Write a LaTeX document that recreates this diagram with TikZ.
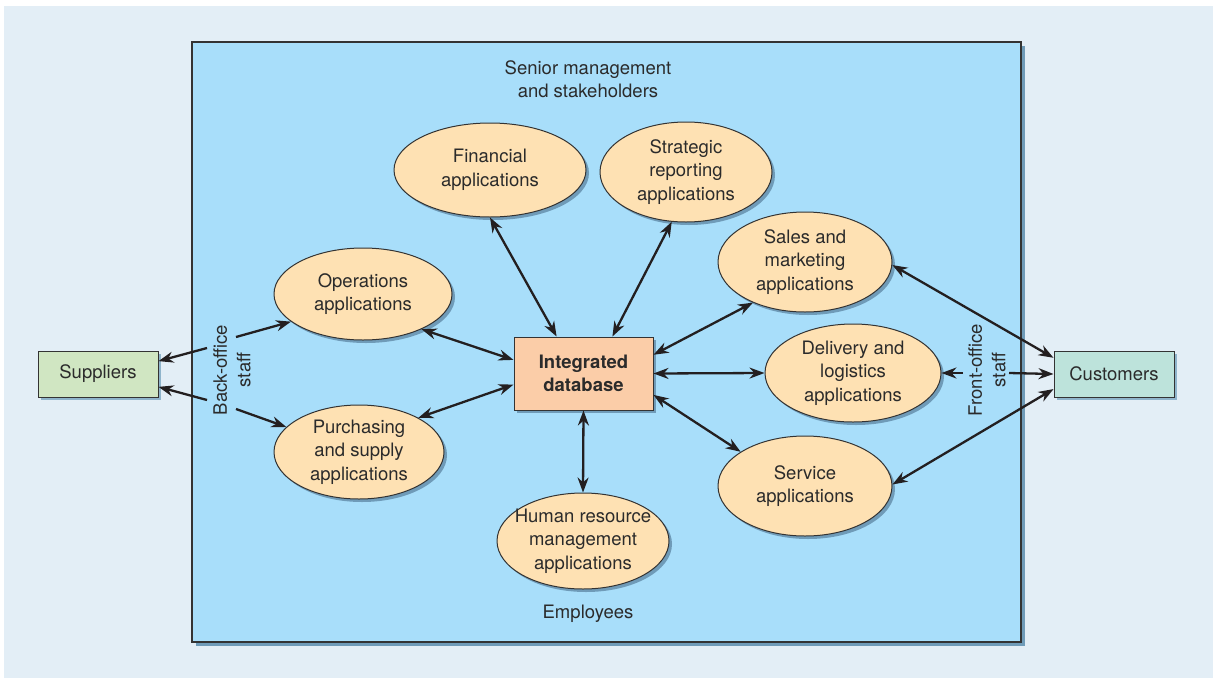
\documentclass[tikz,border=0pt]{standalone}
\usepackage{fontspec}
\setmainfont{TeX Gyre Heros}
\usetikzlibrary{shapes.geometric,arrows.meta,shadows}
\definecolor{bgc}{HTML}{E3EEF6}
\definecolor{mainc}{HTML}{A8DEFA}
\definecolor{appc}{HTML}{FEE1B3}
\definecolor{dbc}{HTML}{FBCDA8}
\definecolor{supc}{HTML}{D0E6C2}
\definecolor{cusc}{HTML}{BDE3DB}
\definecolor{shc}{HTML}{6F9BB8}
\definecolor{shcb}{HTML}{8FB4CB}
\definecolor{lc}{HTML}{333333}
\definecolor{tc}{HTML}{2B2B2B}
\definecolor{ac}{HTML}{231F20}
\begin{document}
\begin{tikzpicture}[x=1pt,y=-1pt,
  font=\fontsize{18.5}{23.5}\selectfont,
  txt/.style={text=tc,align=center,inner sep=0pt},
  app/.style={ellipse,draw=lc,line width=1pt,fill=appc,inner sep=-20pt,text=tc,align=center,
    drop shadow={shadow xshift=3pt,shadow yshift=-3pt,fill=shc,opacity=1}},
  dbbox/.style={rectangle,draw=lc,line width=1pt,fill=dbc,inner sep=0pt,text=tc,align=center,
    minimum width=139pt,minimum height=73pt,font=\fontsize{18.5}{23.5}\selectfont\bfseries,
    drop shadow={shadow xshift=3pt,shadow yshift=-3pt,fill=shc,opacity=1}},
  ext/.style={rectangle,draw=lc,line width=1pt,inner sep=0pt,text=tc,
    minimum width=120pt,minimum height=46pt,
    drop shadow={shadow xshift=3pt,shadow yshift=-3pt,fill=shcb,opacity=1}},
  conn/.style={line width=2.3pt,draw=ac,{Stealth[length=15pt,width=11pt]}-{Stealth[length=15pt,width=11pt]}},
  one/.style={line width=2.3pt,draw=ac,-{Stealth[length=15pt,width=11pt]}}
]
\useasboundingbox (0,0) rectangle (1213,678);
\fill[white] (0,0) rectangle (1213,678);
\fill[bgc] (4,6) rectangle (1213,678);
% main region
\fill[shc] (196,46) rectangle (1025,646);
\draw[fill=mainc,draw=lc,line width=1.3pt] (192,42) rectangle (1021,642);

\node[txt] (senior) at (588,79) {Senior management\\and stakeholders};
\node[txt] (emp) at (588,614) {Employees};

% applications
\node[app,minimum width=192pt,minimum height=94pt] (fin) at (490,170) {Financial\\applications};
\node[app,minimum width=172pt,minimum height=100pt] (strat) at (686,172) {Strategic\\reporting\\applications};
\node[app,minimum width=178pt,minimum height=92pt] (ops) at (363,294) {Operations\\applications};
\node[app,minimum width=170pt,minimum height=94pt] (pur) at (359,452) {Purchasing\\and supply\\applications};
\node[app,minimum width=174pt,minimum height=100pt] (sales) at (805,262) {Sales and\\marketing\\applications};
\node[app,minimum width=176pt,minimum height=98pt] (deliv) at (853,373) {Delivery and\\logistics\\applications};
\node[app,minimum width=174pt,minimum height=100pt] (serv) at (805,486) {Service\\applications};
\node[app,minimum width=172pt,minimum height=96pt] (hr) at (583,541) {Human resource\\management\\applications};

\node[dbbox] (db) at (583.5,373.5) {Integrated\\database};

\node[ext,fill=supc] (sup) at (98,374) {Suppliers};
\node[ext,fill=cusc] (cus) at (1114,374) {Customers};

\node[txt,rotate=90] (bo) at (232,370) {Back-office\\staff};
\node[txt,rotate=90] (fo) at (987,370) {Front-office\\staff};

% database connections
\draw[conn] (fin.south) -- (db.126);
\draw[conn] (strat.-106) -- (db.52);
\draw[conn] (ops.-31) -- (db.169);
\draw[conn] (pur.30) -- (db.-171);
\draw[conn] (sales.-142) -- (db.15);
\draw[conn] (deliv.west) -- (db.east);
\draw[conn] (serv.152) -- (db.-17);
\draw[conn] (hr.north) -- (db.south);

% back office
\coordinate (bo1) at (207,348);
\coordinate (bo2) at (207,400);
\coordinate (bo3) at (236,337);
\coordinate (bo4) at (236,409);
\draw[one] (bo1) -- (sup.12);
\draw[one] (bo2) -- (sup.-12);
\draw[one] (bo3) -- (ops.-159);
\draw[one] (bo4) -- (pur.161);

% front office
\draw[conn] (sales.-2) -- (cus.165);
\draw[conn] (serv.1) -- (cus.-166);
\coordinate (fo1) at (963,373);
\coordinate (fo2) at (1009,373);
\draw[one] (fo1) -- (deliv.east);
\draw[one] (fo2) -- (cus.west);
\end{tikzpicture}
\end{document}
